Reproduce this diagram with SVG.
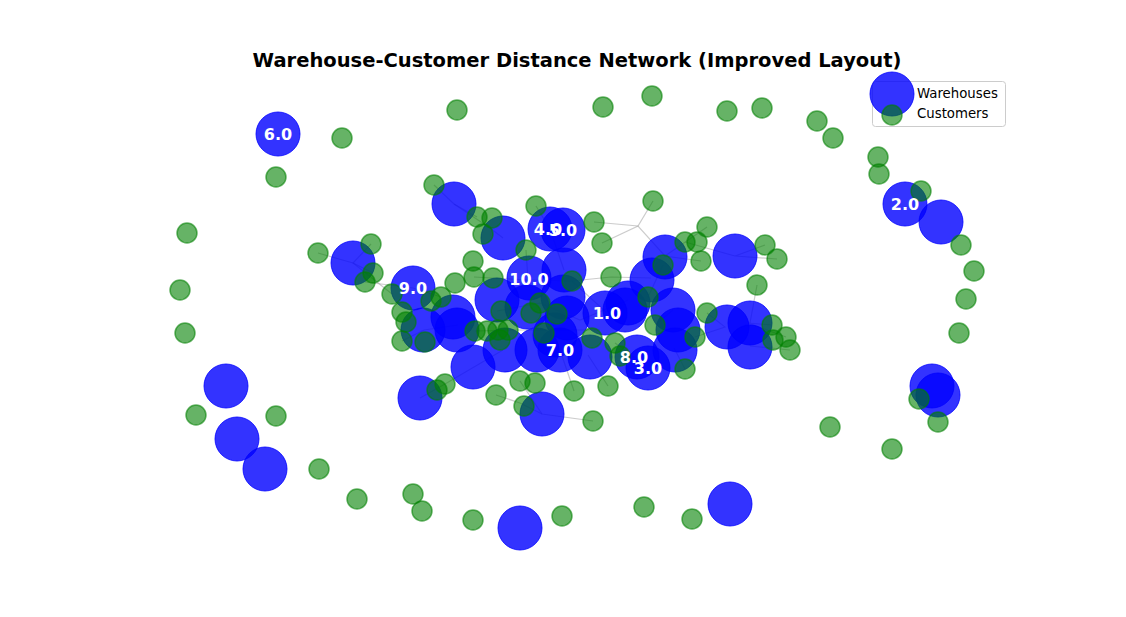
<svg xmlns="http://www.w3.org/2000/svg" width="1126" height="617" viewBox="0 0 1126 617">
<style>
.w{fill:#0000ff;fill-opacity:0.8;stroke:#0000ff;stroke-opacity:0.8;stroke-width:1}
.c{fill:#008000;fill-opacity:0.6;stroke:#008000;stroke-opacity:0.6;stroke-width:1.5}
.e{stroke:#999;stroke-opacity:0.5;stroke-width:1.2;fill:none}
.lb{font-family:"DejaVu Sans",sans-serif;font-weight:bold;font-size:16px;fill:#fff;text-anchor:middle}
.t{font-family:"DejaVu Sans",sans-serif;font-weight:bold;font-size:19.5px;fill:#000;text-anchor:middle}
.lg{font-family:"DejaVu Sans",sans-serif;font-size:13.3px;fill:#000}
</style>
<rect width="1126" height="617" fill="#fff"/>
<text class="t" x="577" y="67">Warehouse-Customer Distance Network (Improved Layout)</text>
<g id="connectors">
<polyline class="e" points="653,201 638,226 602,243"/>
<polyline class="e" points="594,222 638,226 665,256"/>
<polyline class="e" points="434,185 454,204 477,217"/>
<polyline class="e" points="454,204 490,228 503,238"/>
<polyline class="e" points="318,253 353,263 373,273"/>
<polyline class="e" points="371,244 353,263 392,294"/>
<polyline class="e" points="365,282 413,288 441,297"/>
<polyline class="e" points="420,398 445,384 474,367 503,350"/>
<polyline class="e" points="496,395 520,403 542,414 593,421"/>
<polyline class="e" points="520,381 542,414"/>
<polyline class="e" points="574,391 560,350"/>
<polyline class="e" points="608,386 588,355"/>
<polyline class="e" points="707,227 665,256 701,261"/>
<polyline class="e" points="765,245 735,256 777,259"/>
<polyline class="e" points="685,242 735,256"/>
<polyline class="e" points="757,285 750,323"/>
<polyline class="e" points="772,325 748,323 786,337"/>
<polyline class="e" points="790,350 750,346"/>
<polyline class="e" points="695,337 725,327 707,313"/>
<polyline class="e" points="685,369 674,348"/>
<polyline class="e" points="572,281 611,277 651,278"/>
<polyline class="e" points="528,280 572,281 607,313"/>
<polyline class="e" points="474,277 528,280 526,250"/>
<polyline class="e" points="497,311 540,303 580,320 628,300"/>
<polyline class="e" points="475,331 515,330 560,330 600,330"/>
<polyline class="e" points="402,341 424,330 458,325"/>
<polyline class="e" points="536,206 550,229 564,270"/>
<polyline class="e" points="648,297 663,265"/>
<polyline class="e" points="655,325 673,310"/>
<polyline class="e" points="615,343 634,357 620,356"/>
</g>
<g id="warehouses">
<g id="w1"><circle class="w" cx="278" cy="134" r="22"/></g>
<g id="w2"><circle class="w" cx="905" cy="204" r="22"/></g>
<g id="w3"><circle class="w" cx="941" cy="222" r="22"/></g>
<g id="w4"><circle class="w" cx="226" cy="386" r="22"/></g>
<g id="w5"><circle class="w" cx="237" cy="439" r="22"/></g>
<g id="w6"><circle class="w" cx="265" cy="469" r="22"/></g>
<g id="w7"><circle class="w" cx="520" cy="528" r="22"/></g>
<g id="w8"><circle class="w" cx="730" cy="504" r="22"/></g>
<g id="w9"><circle class="w" cx="932" cy="386" r="22"/></g>
<g id="w10"><circle class="w" cx="938" cy="395" r="22"/></g>
<g id="w11"><circle class="w" cx="420" cy="398" r="22"/></g>
<g id="w12"><circle class="w" cx="542" cy="414" r="22"/></g>
<g id="w13"><circle class="w" cx="454" cy="204" r="22"/></g>
<g id="w14"><circle class="w" cx="503" cy="238" r="22"/></g>
<g id="w15"><circle class="w" cx="353" cy="263" r="22"/></g>
<g id="w16"><circle class="w" cx="564" cy="270" r="22"/></g>
<g id="w17"><circle class="w" cx="665" cy="257" r="22"/></g>
<g id="w18"><circle class="w" cx="735" cy="256" r="22"/></g>
<g id="w19"><circle class="w" cx="652" cy="280" r="22"/></g>
<g id="w20"><circle class="w" cx="628" cy="303" r="22"/></g>
<g id="w21"><circle class="w" cx="673" cy="310" r="22"/></g>
<g id="w22"><circle class="w" cx="678" cy="330" r="22"/></g>
<g id="w23"><circle class="w" cx="675" cy="350" r="22"/></g>
<g id="w24"><circle class="w" cx="727" cy="327" r="22"/></g>
<g id="w25"><circle class="w" cx="750" cy="323" r="22"/></g>
<g id="w26"><circle class="w" cx="750" cy="347" r="22"/></g>
<g id="w27"><circle class="w" cx="590" cy="357" r="22"/></g>
<g id="w28"><circle class="w" cx="537" cy="350" r="22"/></g>
<g id="w29"><circle class="w" cx="505" cy="350" r="22"/></g>
<g id="w30"><circle class="w" cx="473" cy="367" r="22"/></g>
<g id="w31"><circle class="w" cx="423" cy="330" r="22"/></g>
<g id="w32"><circle class="w" cx="457" cy="330" r="22"/></g>
<g id="w33"><circle class="w" cx="453" cy="317" r="22"/></g>
<g id="w34"><circle class="w" cx="497" cy="300" r="22"/></g>
<g id="w35"><circle class="w" cx="527" cy="307" r="22"/></g>
<g id="w36"><circle class="w" cx="563" cy="297" r="22"/></g>
<g id="w37"><circle class="w" cx="567" cy="318" r="22"/></g>
<g id="w38"><circle class="w" cx="555" cy="335" r="22"/></g>
<g id="w39"><circle class="w" cx="625" cy="310" r="22"/></g>
<g id="w40"><circle class="w" cx="550" cy="229" r="22"/></g>
<g id="w41"><circle class="w" cx="563" cy="230" r="22"/></g>
<g id="w42"><circle class="w" cx="413" cy="288" r="22"/></g>
<g id="w43"><circle class="w" cx="529" cy="278" r="22"/></g>
<g id="w44"><circle class="w" cx="605" cy="313" r="22"/></g>
<g id="w45"><circle class="w" cx="560" cy="350" r="22"/></g>
<g id="w46"><circle class="w" cx="637" cy="357" r="22"/></g>
<g id="w47"><circle class="w" cx="648" cy="368" r="22"/></g>
</g>
<g id="customers">
<circle class="c" cx="457" cy="110" r="10"/><circle class="c" cx="603" cy="107" r="10"/><circle class="c" cx="652" cy="96" r="10"/>
<circle class="c" cx="727" cy="111" r="10"/><circle class="c" cx="762" cy="108" r="10"/><circle class="c" cx="817" cy="121" r="10"/>
<circle class="c" cx="833" cy="138" r="10"/><circle class="c" cx="878" cy="157" r="10"/><circle class="c" cx="879" cy="174" r="10"/>
<circle class="c" cx="921" cy="191" r="10"/><circle class="c" cx="961" cy="245" r="10"/><circle class="c" cx="974" cy="271" r="10"/>
<circle class="c" cx="966" cy="299" r="10"/><circle class="c" cx="959" cy="333" r="10"/><circle class="c" cx="342" cy="138" r="10"/>
<circle class="c" cx="276" cy="177" r="10"/><circle class="c" cx="187" cy="233" r="10"/><circle class="c" cx="180" cy="290" r="10"/>
<circle class="c" cx="185" cy="333" r="10"/><circle class="c" cx="196" cy="415" r="10"/><circle class="c" cx="276" cy="416" r="10"/>
<circle class="c" cx="319" cy="469" r="10"/><circle class="c" cx="357" cy="499" r="10"/><circle class="c" cx="413" cy="494" r="10"/>
<circle class="c" cx="422" cy="511" r="10"/><circle class="c" cx="473" cy="520" r="10"/><circle class="c" cx="562" cy="516" r="10"/>
<circle class="c" cx="644" cy="507" r="10"/><circle class="c" cx="692" cy="519" r="10"/><circle class="c" cx="830" cy="427" r="10"/>
<circle class="c" cx="892" cy="449" r="10"/><circle class="c" cx="919" cy="399" r="10"/><circle class="c" cx="938" cy="422" r="10"/>
<circle class="c" cx="434" cy="185" r="10"/><circle class="c" cx="477" cy="217" r="10"/><circle class="c" cx="492" cy="218" r="10"/>
<circle class="c" cx="483" cy="234" r="10"/><circle class="c" cx="536" cy="206" r="10"/><circle class="c" cx="594" cy="222" r="10"/>
<circle class="c" cx="602" cy="243" r="10"/><circle class="c" cx="653" cy="201" r="10"/><circle class="c" cx="707" cy="227" r="10"/>
<circle class="c" cx="685" cy="242" r="10"/><circle class="c" cx="697" cy="242" r="10"/><circle class="c" cx="701" cy="261" r="10"/>
<circle class="c" cx="765" cy="245" r="10"/><circle class="c" cx="777" cy="259" r="10"/><circle class="c" cx="757" cy="285" r="10"/>
<circle class="c" cx="318" cy="253" r="10"/><circle class="c" cx="371" cy="244" r="10"/><circle class="c" cx="373" cy="273" r="10"/>
<circle class="c" cx="365" cy="282" r="10"/><circle class="c" cx="392" cy="294" r="10"/><circle class="c" cx="473" cy="261" r="10"/>
<circle class="c" cx="474" cy="277" r="10"/><circle class="c" cx="455" cy="283" r="10"/><circle class="c" cx="493" cy="278" r="10"/>
<circle class="c" cx="526" cy="250" r="10"/><circle class="c" cx="572" cy="281" r="10"/><circle class="c" cx="611" cy="277" r="10"/>
<circle class="c" cx="663" cy="265" r="10"/><circle class="c" cx="648" cy="297" r="10"/><circle class="c" cx="707" cy="313" r="10"/>
<circle class="c" cx="772" cy="325" r="10"/><circle class="c" cx="786" cy="337" r="10"/><circle class="c" cx="790" cy="350" r="10"/>
<circle class="c" cx="773" cy="340" r="10"/><circle class="c" cx="695" cy="337" r="10"/><circle class="c" cx="685" cy="369" r="10"/>
<circle class="c" cx="655" cy="325" r="10"/><circle class="c" cx="608" cy="386" r="10"/><circle class="c" cx="574" cy="391" r="10"/>
<circle class="c" cx="593" cy="421" r="10"/><circle class="c" cx="524" cy="406" r="10"/><circle class="c" cx="496" cy="395" r="10"/>
<circle class="c" cx="520" cy="381" r="10"/><circle class="c" cx="535" cy="383" r="10"/><circle class="c" cx="445" cy="384" r="10"/>
<circle class="c" cx="437" cy="390" r="10"/><circle class="c" cx="402" cy="341" r="10"/><circle class="c" cx="425" cy="342" r="10"/>
<circle class="c" cx="402" cy="312" r="10"/><circle class="c" cx="406" cy="322" r="10"/><circle class="c" cx="431" cy="301" r="10"/>
<circle class="c" cx="441" cy="297" r="10"/><circle class="c" cx="475" cy="331" r="10"/><circle class="c" cx="487" cy="331" r="10"/>
<circle class="c" cx="498" cy="330" r="10"/><circle class="c" cx="501" cy="311" r="10"/><circle class="c" cx="500" cy="340" r="10"/>
<circle class="c" cx="531" cy="313" r="10"/><circle class="c" cx="540" cy="303" r="10"/><circle class="c" cx="557" cy="314" r="10"/>
<circle class="c" cx="544" cy="333" r="10"/><circle class="c" cx="592" cy="338" r="10"/><circle class="c" cx="615" cy="343" r="10"/>
<circle class="c" cx="620" cy="356" r="10"/><circle class="c" cx="508" cy="330" r="10"/>
</g>
<g id="labels">
<text class="lb" x="278" y="140">6.0</text>
<text class="lb" x="905" y="210">2.0</text>
<text class="lb" x="548" y="235">4.0</text>
<text class="lb" x="563" y="236">5.0</text>
<text class="lb" x="413" y="294">9.0</text>
<text class="lb" x="529" y="285">10.0</text>
<text class="lb" x="607" y="319">1.0</text>
<text class="lb" x="560" y="356">7.0</text>
<text class="lb" x="634" y="363">8.0</text>
<text class="lb" x="648" y="374">3.0</text>
</g>
<g id="legend">
<rect x="872.5" y="81.5" width="133" height="45" rx="3" fill="#fff" fill-opacity="0.8" stroke="#ccc"/>
<circle class="w" cx="892" cy="94" r="22"/>
<circle class="c" cx="892" cy="115" r="10"/>
<text class="lg" x="917" y="98">Warehouses</text>
<text class="lg" x="917" y="118">Customers</text>
</g>
</svg>
